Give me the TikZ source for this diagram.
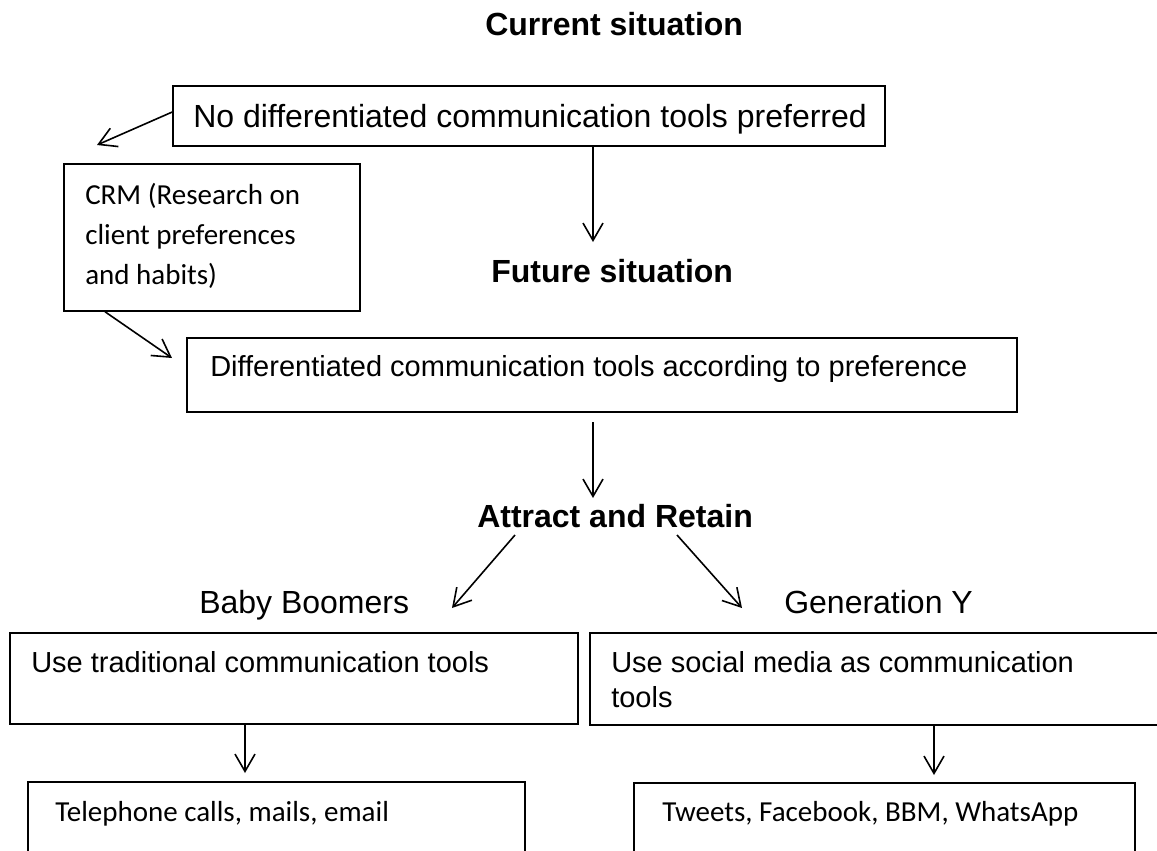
\documentclass[tikz,border=0pt]{standalone}
\usepackage{fontspec}
\setmainfont{Liberation Sans}
\newfontfamily\carlito{Carlito}
\usetikzlibrary{arrows.meta,fit}
\begin{document}
\begin{tikzpicture}[x=0.75pt,y=-0.75pt,
  box/.style={draw=black, line width=1.1pt, inner sep=0pt},
  head/.style={font=\fontsize{24pt}{28pt}\selectfont\bfseries, anchor=base west, inner sep=0pt},
  big/.style={font=\fontsize{24pt}{28pt}\selectfont, anchor=base west, inner sep=0pt},
  txt/.style={font=\fontsize{21.75pt}{26pt}\selectfont, anchor=base west, inner sep=0pt},
  cal/.style={font=\carlito\fontsize{21.75pt}{26pt}\selectfont, anchor=base west, inner sep=0pt},
  arr/.style={line width=1.2pt, -{Straight Barb[length=13pt,width=15pt]}}]
\useasboundingbox (0,0) rectangle (1157,850);
\clip (0,0) rectangle (1157,850);

% headings
\node[head] (cur) at (485,35) {Current situation};
\node[head] (fut) at (491,282) {Future situation};
\node[head] (att) at (477,527) {Attract and Retain};
\node[big] (bb) at (199,613) {Baby Boomers};
\node[big] (gy) at (784,613) {Generation Y};

% boxes
\node[box, fit={(173,86) (885,146)}] (b1) {};
\node[big] (b1t) at (193,127) {No differentiated communication tools preferred};

\node[box, fit={(64,164) (360,311)}] (crm) {};
\node[cal] (crm1) at (85,204) {CRM (Research on};
\node[cal] (crm2) at (85,244) {client preferences};
\node[cal] (crm3) at (85,284) {and habits)};

\node[box, fit={(187,338) (1017,412)}] (diff) {};
\node[txt] (difft) at (210,376) {Differentiated communication tools according to preference};

\node[box, fit={(10,633) (578,724)}] (trad) {};
\node[txt] (tradt) at (31,672) {Use traditional communication tools};

\node[box, fit={(590,633) (1180,725)}] (soc) {};
\node[txt] (soc1) at (611,672) {Use social media as communication};
\node[txt] (soc2) at (611,707) {tools};

\node[box, fit={(28,782) (525,900)}] (tel) {};
\node[cal] (telt) at (55,821) {Telephone calls, mails, email};

\node[box, fit={(634,783) (1135,900)}] (tw) {};
\node[cal] (twt) at (662,821) {Tweets, Facebook, BBM, WhatsApp};

% arrow ends
\coordinate (a1e) at (97,145);
\coordinate (a2e) at (593,242);
\coordinate (a3e) at (172,358);
\coordinate (a4s) at (593,422);
\coordinate (a4e) at (593,498);
\coordinate (a5s) at (515,535);
\coordinate (a5e) at (452,608);
\coordinate (a6s) at (677,535);
\coordinate (a6e) at (742,608);
\coordinate (a7e) at (245,773);
\coordinate (a8e) at (934,775);

% connectors
\draw[arr] ([yshift=3pt]b1.west) -- (a1e);
\draw[arr] (b1.south -| a2e) -- (a2e);
\draw[arr] ([xshift=-80.25pt]crm.south) -- (a3e);
\draw[arr] (a4s) -- (a4e);
\draw[arr] (a5s) -- (a5e);
\draw[arr] (a6s) -- (a6e);
\draw[arr] (trad.south -| a7e) -- (a7e);
\draw[arr] (soc.south -| a8e) -- (a8e);
\end{tikzpicture}
\end{document}
